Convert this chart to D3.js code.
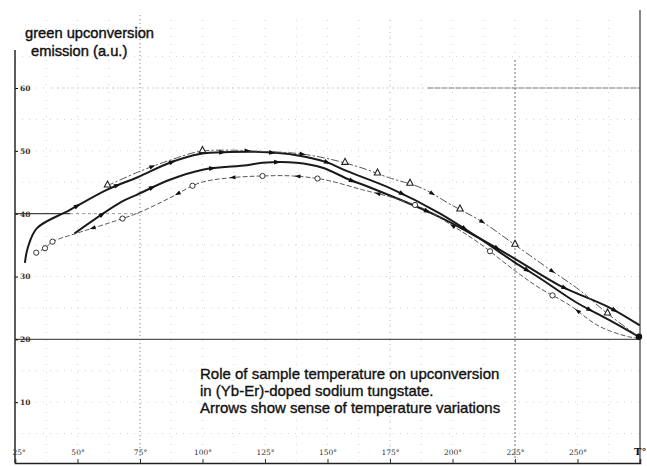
<!DOCTYPE html>
<html>
<head>
<meta charset="utf-8">
<script src="https://cdn.jsdelivr.net/npm/d3@7"></script>
<style>
  html, body { margin: 0; padding: 0; background: #fff; }
  svg { display: block; }
  .lbl { font-family: "Liberation Sans", Arial, sans-serif; fill: #111; }
  .tick text { font-family: "DejaVu Serif", serif; font-size: 7.5px; fill: #333; }
</style>
</head>
<body>
<svg id="chart" width="647" height="466"></svg>
<script>
// Temperature axis (°C) and intensity axis (a.u.)
const tempTicks = [25, 50, 75, 100, 125, 150, 175, 200, 225, 250, 275];
const tempLabels = ["25°", "50°", "75°", "100°", "125°", "150°", "175°", "200°", "225°", "250°", "T°"];
const emissionTicks = [10, 20, 30, 40, 50, 60];

// Run 1: heating, solid line (upper branch on the way up)
const runA_T = [29, 30.2, 33.8, 47, 61.7, 74.1, 86.9, 98.9, 110.9, 124, 137.6, 149.6, 157.6, 174.8, 194.7, 210.7, 224.7, 234.7, 249.4, 262.6, 274.6];
const runA_I = [32.3, 34.7, 37.7, 40.6, 43.8, 45.8, 48.1, 49.5, 49.8, 49.8, 49.3, 48.2, 46.8, 44.1, 40.1, 36.1, 32.3, 29.8, 25.9, 23.1, 20.4];

// Run 2: heating, solid line (lower branch on the way up)
const runB_T = [49, 67.7, 73.7, 86.9, 100.1, 117.7, 124, 137.6, 148, 158.8, 166.8, 194.7, 210.7, 224.7, 242.7, 262.6, 274.6];
const runB_I = [36.9, 41.9, 43.0, 45.4, 47.0, 47.7, 48.1, 48.1, 47.3, 45.4, 44.2, 39.5, 36.1, 32.9, 28.6, 25.1, 22.3];

// Run 3: cooling, dashed line with open circles
const runC_T = [33, 37, 39.8, 49.8, 61.7, 74.1, 86.9, 98.9, 110.9, 124, 136, 148.8, 164, 174.8, 187.9, 199.5, 210.7, 224.7, 234.7, 246.6, 258.6, 270.6, 274.6];
const runC_I = [33.7, 34.5, 35.5, 36.9, 38.4, 40.1, 42.5, 44.9, 45.7, 46.0, 46.0, 45.4, 43.8, 42.7, 40.9, 38.2, 35.3, 31.0, 28.2, 25.5, 22.1, 20.4, 20.2];

// Run 4: dash-dot line with open triangles
const runD_T = [61.7, 74.1, 86.9, 98.9, 112.1, 124, 137.6, 149.6, 162.8, 174.8, 187.5, 199.5, 211.9, 225.1, 237.9, 250.6, 262.6, 274.6];
const runD_I = [44.4, 46.6, 48.5, 49.9, 50.1, 49.9, 49.6, 48.8, 47.4, 45.7, 44.1, 41.4, 38.7, 35.0, 31.4, 27.9, 23.9, 20.4];

// Temperatures where the direction arrows and symbols sit on each run
const runA_arrows = [50, 66, 88, 108, 128, 150, 180, 205, 230, 255];
const runB_arrows = [60, 80, 104, 130, 160, 190, 218, 245, 265];
const runC_arrows = [56, 90, 112, 138, 170, 200, 250];
const runC_circles = [33.5, 37, 40, 68, 96, 124, 146, 185, 215, 240];
const runD_arrows = [80, 118, 140, 192, 212, 240];
const runD_triangles = [62, 100, 157, 170, 183, 203, 225, 262];

const caption = [
  "Role of sample temperature on upconversion",
  "in (Yb-Er)-doped sodium tungstate.",
  "Arrows show sense of temperature variations"
];
const yTitle = ["green upconversion", "emission (a.u.)"];

const svg = d3.select("#chart");
const x = d3.scaleLinear().domain([25, 275]).range([15, 640]);
const y = d3.scaleLinear().domain([0, 60]).range([465, 88]);
const axisY = 463;

// ---- background grid ----
const grid = svg.append("g");
// faint dotted grid, every 12.5 °C and every 5 units
grid.selectAll(".vg").data(d3.range(37.5, 275, 12.5)).join("line")
  .attr("x1", d => x(d)).attr("x2", d => x(d))
  .attr("y1", 20).attr("y2", axisY)
  .attr("stroke", "#c8c8c8").attr("stroke-width", 0.8)
  .attr("stroke-dasharray", "1,7");
grid.selectAll(".hg").data(d3.range(5, 70, 5)).join("line")
  .attr("x1", x(25)).attr("x2", x(275))
  .attr("y1", d => y(d)).attr("y2", d => y(d))
  .attr("stroke", "#c8c8c8").attr("stroke-width", 0.8)
  .attr("stroke-dasharray", "1,6");
// heavier reference lines
grid.append("line").attr("x1", x(75)).attr("x2", x(75)).attr("y1", 15).attr("y2", axisY)
  .attr("stroke", "#888").attr("stroke-width", 1).attr("stroke-dasharray", "1,3");
grid.append("line").attr("x1", x(225)).attr("x2", x(225)).attr("y1", 60).attr("y2", axisY)
  .attr("stroke", "#777").attr("stroke-width", 1).attr("stroke-dasharray", "2,2");
grid.append("line").attr("x1", x(175)).attr("x2", x(175)).attr("y1", 20).attr("y2", axisY)
  .attr("stroke", "#aaa").attr("stroke-width", 0.8).attr("stroke-dasharray", "1,5");
grid.append("line").attr("x1", x(40)).attr("x2", x(190)).attr("y1", y(60)).attr("y2", y(60))
  .attr("stroke", "#aaa").attr("stroke-width", 1).attr("stroke-dasharray", "1,4");
grid.append("line").attr("x1", x(190)).attr("x2", x(275)).attr("y1", y(60)).attr("y2", y(60))
  .attr("stroke", "#777").attr("stroke-width", 1).attr("stroke-dasharray", "6,1");
grid.append("line").attr("x1", x(25)).attr("x2", x(275)).attr("y1", y(20)).attr("y2", y(20))
  .attr("stroke", "#555").attr("stroke-width", 1.2);
grid.append("line").attr("x1", x(25)).attr("x2", x(47)).attr("y1", y(40)).attr("y2", y(40))
  .attr("stroke", "#444").attr("stroke-width", 1.2);
grid.append("line").attr("x1", x(47)).attr("x2", x(75)).attr("y1", y(40)).attr("y2", y(40))
  .attr("stroke", "#999").attr("stroke-width", 1).attr("stroke-dasharray", "3,3");
grid.append("line").attr("x1", x(275)).attr("x2", x(275)).attr("y1", 10).attr("y2", axisY)
  .attr("stroke", "#555").attr("stroke-width", 1.4);

// ---- axes ----
const xAxis = d3.axisTop(x).tickValues(tempTicks)
  .tickFormat((d, i) => tempLabels[i]).tickSize(4).tickPadding(4);
const gx = svg.append("g").attr("transform", `translate(0,${axisY})`).call(xAxis);
gx.select(".domain").attr("stroke", "#222").attr("stroke-width", 1.6);
gx.selectAll(".tick line").attr("stroke", "#333");
gx.selectAll(".tick text").filter((d, i) => i === 0).attr("text-anchor", "start").attr("dx", "-3");
gx.selectAll(".tick text").filter((d, i) => i === tempTicks.length - 1)
  .attr("text-anchor", "end").attr("dx", "6").style("font-size", "10px").style("font-weight", "bold").style("fill", "#111");

const yAxis = d3.axisRight(y).tickValues(emissionTicks).tickSize(3).tickPadding(2);
const gy = svg.append("g").attr("transform", `translate(${x(25)},0)`).call(yAxis);
gy.select(".domain").remove();
gy.selectAll(".tick text").style("font-weight", "bold");
svg.append("line").attr("x1", x(25)).attr("x2", x(25)).attr("y1", 50).attr("y2", axisY)
  .attr("stroke", "#333").attr("stroke-width", 1.6);

// ---- curves ----
const line = d3.line().x(d => x(d[0])).y(d => y(d[1])).curve(d3.curveCatmullRom.alpha(0.5));
const zip = (a, b) => a.map((t, i) => [t, b[i]]);

const runs = [
  { T: runA_T, I: runA_I, width: 2.0, dash: null, color: "#1a1a1a" },
  { T: runB_T, I: runB_I, width: 2.0, dash: null, color: "#1a1a1a" },
  { T: runC_T, I: runC_I, width: 1.0, dash: "4,3", color: "#555" },
  { T: runD_T, I: runD_I, width: 1.0, dash: "7,3,1.5,3", color: "#555" }
];
const paths = runs.map(r => svg.append("path")
  .attr("d", line(zip(r.T, r.I)))
  .attr("fill", "none").attr("stroke", r.color)
  .attr("stroke-width", r.width)
  .attr("stroke-dasharray", r.dash)
  .attr("stroke-linecap", "round").node());

// locate the point on a drawn run at a given temperature, with its heading
function pointAt(pathNode, t) {
  const target = x(t), total = pathNode.getTotalLength();
  let lo = 0, hi = total;
  for (let k = 0; k < 30; k++) {
    const mid = (lo + hi) / 2;
    if (pathNode.getPointAtLength(mid).x < target) lo = mid; else hi = mid;
  }
  const p = pathNode.getPointAtLength(lo);
  const q = pathNode.getPointAtLength(Math.min(total, lo + 2));
  const ang = Math.atan2(q.y - p.y, q.x - p.x) * 180 / Math.PI;
  return { x: p.x, y: p.y, ang };
}

const marks = svg.append("g");
function arrows(pathNode, temps, reverse, size) {
  temps.forEach(t => {
    const p = pointAt(pathNode, t);
    const a = p.ang + (reverse ? 180 : 0);
    marks.append("path")
      .attr("d", `M${size},0 L${-size},${-size * 0.7} L${-size},${size * 0.7} Z`)
      .attr("transform", `translate(${p.x},${p.y}) rotate(${a})`)
      .attr("fill", "#111");
  });
}
arrows(paths[0], runA_arrows, false, 3.4);
arrows(paths[1], runB_arrows, false, 3.4);
arrows(paths[2], runC_arrows, true, 3.0);
arrows(paths[3], runD_arrows, false, 3.0);

runC_circles.forEach(t => {
  const p = pointAt(paths[2], t);
  marks.append("circle").attr("cx", p.x).attr("cy", p.y).attr("r", 2.6)
    .attr("fill", "#fff").attr("stroke", "#333").attr("stroke-width", 1);
});
runD_triangles.forEach(t => {
  const p = pointAt(paths[3], t);
  marks.append("path")
    .attr("d", "M0,-3.6 L3.2,2.4 L-3.2,2.4 Z")
    .attr("transform", `translate(${p.x},${p.y - 1})`)
    .attr("fill", "#fff").attr("stroke", "#222").attr("stroke-width", 1.1);
});
// convergence point at the top temperature
const end = pointAt(paths[0], 274.6);
marks.append("circle").attr("cx", end.x).attr("cy", end.y).attr("r", 3.2).attr("fill", "#111");

// ---- texts ----
svg.append("g").selectAll("text").data(yTitle).join("text")
  .attr("class", "lbl")
  .attr("x", (d, i) => i === 0 ? 25 : 31)
  .attr("y", (d, i) => 38 + i * 18)
  .style("font-size", "14.7px")
  .style("stroke", "#111").style("stroke-width", 0.4)
  .text(d => d);

svg.append("g").selectAll("text").data(caption).join("text")
  .attr("class", "lbl")
  .attr("x", 200)
  .attr("y", (d, i) => 379 + i * 17)
  .style("font-size", "15px")
  .style("stroke", "#111").style("stroke-width", 0.35)
  .text(d => d);
</script>
</body>
</html>
